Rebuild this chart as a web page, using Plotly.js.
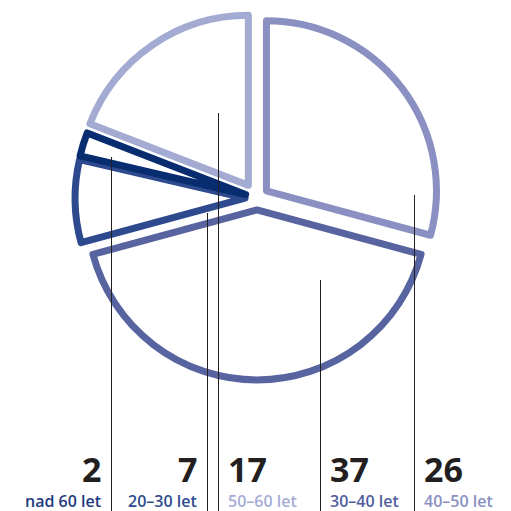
<!DOCTYPE html>
<html>
<head>
<meta charset="utf-8">
<script src="https://cdn.plot.ly/plotly-3.0.1.min.js"></script>
<style>html,body{margin:0;padding:0;background:#fff}#chart{width:511px;height:511px}</style>
</head>
<body>
<div id="chart"></div>
<script>
var categories = ['40–50 let', '30–40 let', '20–30 let', 'nad 60 let', '50–60 let'];
var values = [26, 37, 7, 2, 17];
var lineColors = ['#8a90c2', '#5864a0', '#2e4a8e', '#072c6f', '#a3abd3'];
var labelColors = ['#8a90c2', '#4f5d9e', '#2e4a8e', '#1d3a7e', '#a5add6'];
var pulls = [0.07, 0.07, 0.07, 0.07, 0.09];

// label layout (pixel positions of leader lines / texts)
var W = 511, H = 511;
var leaders = [
  {x: 414, top: 195, textX: 422, side: 'left'},
  {x: 320, top: 280, textX: 328, side: 'left'},
  {x: 207, top: 213, textX: 199, side: 'right'},
  {x: 111, top: 157, textX: 103, side: 'right'},
  {x: 218, top: 113, textX: 226, side: 'left'}
];

var cx = 257, cy = 198, R = 170, maxPull = 0.09;
var half = R * (1 + maxPull);

var trace = {
  type: 'pie',
  labels: categories,
  values: values,
  sort: false,
  direction: 'clockwise',
  rotation: 0,
  pull: pulls,
  textinfo: 'none',
  hoverinfo: 'label+value',
  marker: {colors: categories.map(function(){return 'rgba(255,255,255,0)';}),
           line: {color: lineColors, width: 7}},
  domain: {x: [(cx - half) / W, (cx + half) / W], y: [1 - (cy + half) / H, 1 - (cy - half) / H]},
  showlegend: false
};

var shapes = [], annotations = [];
leaders.forEach(function(l, i) {
  shapes.push({type: 'line', xref: 'paper', yref: 'paper',
    x0: (l.x + 0.5) / W, x1: (l.x + 0.5) / W, y0: 1 - l.top / H, y1: 0,
    line: {color: '#231f20', width: 1}});
  var anchor = l.side === 'right' ? 'right' : 'left';
  annotations.push({xref: 'paper', yref: 'paper', x: l.textX / W, y: 1 - 468.5 / H,
    xanchor: anchor, yanchor: 'middle', showarrow: false,
    text: '<b>' + values[i] + '</b>',
    font: {family: 'Open Sans, Noto Sans, sans-serif', size: 34, color: '#231f20'}});
  annotations.push({xref: 'paper', yref: 'paper', x: l.textX / W, y: 1 - 500.5 / H,
    xanchor: anchor, yanchor: 'middle', showarrow: false,
    text: categories[i],
    font: {family: 'Open Sans, Noto Sans, sans-serif', size: 16, weight: 600, color: labelColors[i]}});
});

var layout = {
  width: 511, height: 511,
  margin: {l: 0, r: 0, t: 0, b: 0},
  paper_bgcolor: '#ffffff',
  shapes: shapes,
  annotations: annotations,
  showlegend: false
};

Plotly.newPlot('chart', [trace], layout, {displayModeBar: false, staticPlot: true});
</script>
</body>
</html>
